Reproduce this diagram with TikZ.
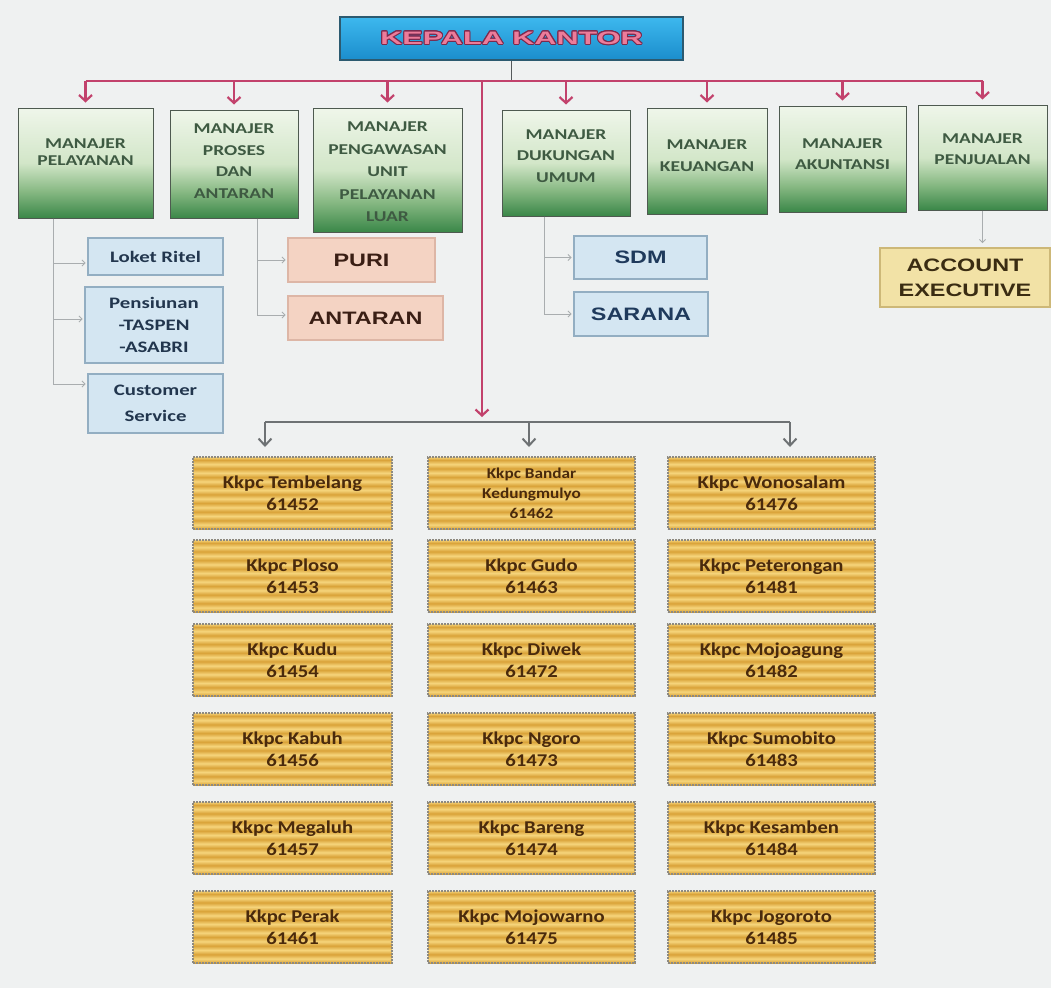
\documentclass[tikz,border=0pt]{standalone}
\usepackage{fontspec}
\usepackage[copies]{contour}
\usetikzlibrary{arrows.meta}

\setmainfont{Carlito}
\newfontfamily\calwide[FakeStretch=1.3]{Carlito}
\newfontfamily\calkkpc[FakeStretch=1.15]{Carlito}
\newfontfamily\arialwide[FakeStretch=1.3]{Liberation Sans}
\newfontfamily\arialtitle[FakeStretch=1.7]{Liberation Sans}
\contourlength{0.9pt}

\definecolor{bgcol}{HTML}{EFF1F1}
\definecolor{redcon}{HTML}{C2426C}
\definecolor{graycon}{HTML}{6E7274}
\definecolor{subcon}{HTML}{A9ADAF}
\definecolor{darkcon}{HTML}{55595B}
\definecolor{topT}{HTML}{3DB8EE}
\definecolor{topB}{HTML}{1B8DCC}
\definecolor{topline}{HTML}{2C5A70}
\definecolor{kpink}{HTML}{EC7C9A}
\definecolor{kdark}{HTML}{7C2A4E}
\definecolor{grT}{HTML}{EFF6EA}
\definecolor{grL}{HTML}{D2E6C8}
\definecolor{grM}{HTML}{86B882}
\definecolor{grD}{HTML}{3A8748}
\definecolor{mgrline}{HTML}{4E5A50}
\definecolor{mgrtxt}{HTML}{3E5A42}
\definecolor{subfill}{HTML}{D4E6F2}
\definecolor{subline}{HTML}{93AEC2}
\definecolor{subtxt}{HTML}{22364E}
\definecolor{sdmtxt}{HTML}{1F3A5C}
\definecolor{purifill}{HTML}{F4D3C3}
\definecolor{puriline}{HTML}{DDB6A6}
\definecolor{puritxt}{HTML}{3A1E14}
\definecolor{accfill}{HTML}{F2E2A6}
\definecolor{accline}{HTML}{CDB878}
\definecolor{acctxt}{HTML}{3A2C12}
\definecolor{gdL}{HTML}{F6D57C}
\definecolor{gdD}{HTML}{D9A238}
\definecolor{kkline}{HTML}{8E8A80}
\definecolor{kktxt}{HTML}{4A2A0C}

\pgfdeclareverticalshading{topblue}{100bp}{color(0bp)=(topB); color(25bp)=(topB); color(75bp)=(topT); color(100bp)=(topT)}
\pgfdeclareverticalshading{mgrgreen}{100bp}{color(0bp)=(grD); color(25bp)=(grD); color(37bp)=(grM); color(50bp)=(grL); color(75bp)=(grT); color(100bp)=(grT)}
\pgfdeclareverticalshading{goldwave}{100bp}{color(0bp)=(gdD); color(25bp)=(gdD); color(28bp)=(gdL); color(31bp)=(gdD); color(34bp)=(gdL); color(37bp)=(gdD); color(40bp)=(gdL); color(43bp)=(gdD); color(46bp)=(gdL); color(49bp)=(gdD); color(52bp)=(gdL); color(55bp)=(gdD); color(58bp)=(gdL); color(61bp)=(gdD); color(64bp)=(gdL); color(67bp)=(gdD); color(70bp)=(gdL); color(73bp)=(gdD); color(75bp)=(gdL); color(100bp)=(gdL)}

\tikzset{
  topbox/.style={draw=topline, line width=1.5pt, shading=topblue, minimum width=343pt, minimum height=43pt, inner sep=0pt, text=kpink, font=\arialtitle\bfseries\fontsize{18}{20}\selectfont},
  mgrbox/.style={draw=mgrline, line width=1pt, shading=mgrgreen, inner sep=0pt},
  mgrtext/.style={inner sep=0pt, align=center, text=mgrtxt, font=\calwide\bfseries\fontsize{15}{21.5}\selectfont},
  subbox/.style={draw=subline, line width=1.8pt, fill=subfill, inner sep=0pt, align=center, text=subtxt, font=\calwide\bfseries\fontsize{16}{22}\selectfont},
  puribox/.style={draw=puriline, line width=1.8pt, fill=purifill, inner sep=0pt, text=puritxt, font=\arialwide\bfseries\fontsize{18}{22}\selectfont},
  sdmbox/.style={draw=subline, line width=1.8pt, fill=subfill, inner sep=0pt, text=sdmtxt, font=\arialwide\bfseries\fontsize{18}{22}\selectfont},
  accbox/.style={draw=accline, line width=1.8pt, fill=accfill, inner sep=0pt, align=center, text=acctxt, font=\arialwide\bfseries\fontsize{18}{25}\selectfont},
  kkpc/.style={draw=kkline, densely dotted, line width=2pt, shading=goldwave, minimum height=72pt, inner sep=0pt, align=center, text=kktxt, font=\calkkpc\bfseries\fontsize{18}{22}\selectfont},
  kkpcsmall/.style={kkpc, font=\calkkpc\bfseries\fontsize{15}{20}\selectfont},
  redline/.style={draw=redcon, line width=2.2pt},
  redarrow/.style={redline, -{Straight Barb[length=6pt,width=13pt]}, shorten >=5pt},
  subarrow/.style={draw=subcon, line width=0.9pt, -{Straight Barb[length=3pt,width=6pt]}, shorten >=1.5pt},
  grayline/.style={draw=graycon, line width=2pt},
  grayarrow/.style={grayline, -{Straight Barb[length=7pt,width=13pt]}, shorten >=9pt}
}

\begin{document}
\begin{tikzpicture}[x=1pt,y=-1pt]
\useasboundingbox (0,0) rectangle (1051,988);
\fill[bgcol] (0,0) rectangle (1051,988);

% kepala kantor
\node[topbox] (kepala) at (511.5,38.5) {\contour{kdark}{KEPALA KANTOR}};

% manajer
\node[mgrbox, minimum width=135pt, minimum height=110pt] (pelayanan) at (85.5,163) {};
\node[mgrbox, minimum width=128pt, minimum height=108pt] (proses) at (234,164) {};
\node[mgrbox, minimum width=149pt, minimum height=124pt] (pengawasan) at (387.5,170) {};
\node[mgrbox, minimum width=128pt, minimum height=106pt] (dukungan) at (566,163) {};
\node[mgrbox, minimum width=120pt, minimum height=106pt] (keuangan) at (707,161) {};
\node[mgrbox, minimum width=127pt, minimum height=106pt] (akuntansi) at (842.5,159) {};
\node[mgrbox, minimum width=129pt, minimum height=105pt] (penjualan) at (982.5,157.5) {};

\node[mgrtext, font=\calwide\bfseries\fontsize{15}{17}\selectfont] (pelayanantxt) at ([yshift=11pt]pelayanan.center) {MANAJER\\PELAYANAN};
\node[mgrtext] (prosestxt) at ([yshift=3pt]proses.center) {MANAJER\\PROSES\\DAN\\ANTARAN};
\node[mgrtext, font=\calwide\bfseries\fontsize{15}{22.5}\selectfont] (pengawasantxt) at ([yshift=-2pt]pengawasan.center) {MANAJER\\PENGAWASAN\\UNIT\\PELAYANAN\\LUAR};
\node[mgrtext] (dukungantxt) at ([yshift=7pt]dukungan.center) {MANAJER\\DUKUNGAN\\UMUM};
\node[mgrtext] (keuangantxt) at ([yshift=5.5pt]keuangan.center) {MANAJER\\KEUANGAN};
\node[mgrtext] (akuntansitxt) at ([yshift=5pt]akuntansi.center) {MANAJER\\AKUNTANSI};
\node[mgrtext] (penjualantxt) at ([yshift=8.5pt]penjualan.center) {MANAJER\\PENJUALAN};

% unit di bawah manajer
\node[subbox, minimum width=135pt, minimum height=37pt] (loket) at (155.5,256.5) {Loket Ritel};
\node[subbox, minimum width=138pt, minimum height=76pt] (pensiunan) at (154,325) {Pensiunan\\-TASPEN\\-ASABRI};
\node[subbox, minimum width=135pt, minimum height=59pt] (customer) at (155.5,403.5) {Customer\\[4pt]Service};
\node[puribox, minimum width=147pt, minimum height=44pt] (puri) at (361.5,260) {PURI};
\node[puribox, minimum width=155pt, minimum height=44pt] (antaran) at (365.5,318) {ANTARAN};
\node[sdmbox, minimum width=133pt, minimum height=43pt] (sdm) at (640.5,257.5) {SDM};
\node[sdmbox, minimum width=134pt, minimum height=44pt] (sarana) at (641,314) {SARANA};
\node[accbox, minimum width=170pt, minimum height=59pt] (account) at (965,277.5) {ACCOUNT\\EXECUTIVE};

% kkpc
\foreach \nm/\cx/\cy/\bw/\st/\txt in {
  tembelang/292.5/493/199/kkpc/{Kkpc Tembelang\\61452},
  ploso/292.5/576/199/kkpc/{Kkpc Ploso\\61453},
  kudu/292.5/660/199/kkpc/{Kkpc Kudu\\61454},
  kabuh/292.5/749/199/kkpc/{Kkpc Kabuh\\61456},
  megaluh/292.5/838/199/kkpc/{Kkpc Megaluh\\61457},
  perak/292.5/927/199/kkpc/{Kkpc Perak\\61461},
  bandar/531.5/493/207/kkpcsmall/{Kkpc Bandar\\Kedungmulyo\\61462},
  gudo/531.5/576/207/kkpc/{Kkpc Gudo\\61463},
  diwek/531.5/660/207/kkpc/{Kkpc Diwek\\61472},
  ngoro/531.5/749/207/kkpc/{Kkpc Ngoro\\61473},
  bareng/531.5/838/207/kkpc/{Kkpc Bareng\\61474},
  mojowarno/531.5/927/207/kkpc/{Kkpc Mojowarno\\61475},
  wonosalam/771.5/493/207/kkpc/{Kkpc Wonosalam\\61476},
  peterongan/771.5/576/207/kkpc/{Kkpc Peterongan\\61481},
  mojoagung/771.5/660/207/kkpc/{Kkpc Mojoagung\\61482},
  sumobito/771.5/749/207/kkpc/{Kkpc Sumobito\\61483},
  kesamben/771.5/838/207/kkpc/{Kkpc Kesamben\\61484},
  jogoroto/771.5/927/207/kkpc/{Kkpc Jogoroto\\61485}}
  \node[\st, minimum width=\bw pt] (\nm) at (\cx,\cy) {\txt};

% garis merah
\coordinate (bus) at (0,81);
\coordinate (trunk) at (482,81);
\coordinate (kbus) at (0,422);
\draw[draw=darkcon, line width=1pt] (kepala.south) -- (kepala.south |- bus);
\draw[redline] (pelayanan.north |- bus) -- (penjualan.north |- bus);
\foreach \m in {pelayanan,proses,pengawasan,dukungan,keuangan,akuntansi,penjualan}
  \draw[redarrow] (\m.north |- bus) -- (\m.north);
\draw[redarrow] (trunk) -- (trunk |- kbus);

% garis abu-abu ke unit
\coordinate (pl) at ([xshift=-32.5pt]pelayanan.south);
\draw[subarrow] (pl) |- ([yshift=-6.5pt]loket.west);
\draw[subarrow] (pl) |- ([yshift=6pt]pensiunan.west);
\draw[subarrow] (pl) |- ([yshift=19.5pt]customer.west);
\coordinate (pr) at ([xshift=23pt]proses.south);
\draw[subarrow] (pr) |- (puri.west);
\draw[subarrow] (pr) |- ([yshift=3pt]antaran.west);
\coordinate (dk) at ([xshift=-22pt]dukungan.south);
\draw[subarrow] (dk) |- (sdm.west);
\draw[subarrow] (dk) |- (sarana.west);
\draw[subarrow, shorten >=4pt] (penjualan.south) -- (penjualan.south |- account.north);

% garis abu-abu ke kkpc
\coordinate (ka) at ([xshift=-27.5pt]tembelang.north);
\coordinate (kb) at ([xshift=-2.5pt]bandar.north);
\coordinate (kc) at ([xshift=18.5pt]wonosalam.north);
\draw[grayline] (ka |- kbus) -- (kc |- kbus);
\draw[grayarrow] (ka |- kbus) -- (ka);
\draw[grayarrow] (kb |- kbus) -- (kb);
\draw[grayarrow] (kc |- kbus) -- (kc);
\end{tikzpicture}
\end{document}
